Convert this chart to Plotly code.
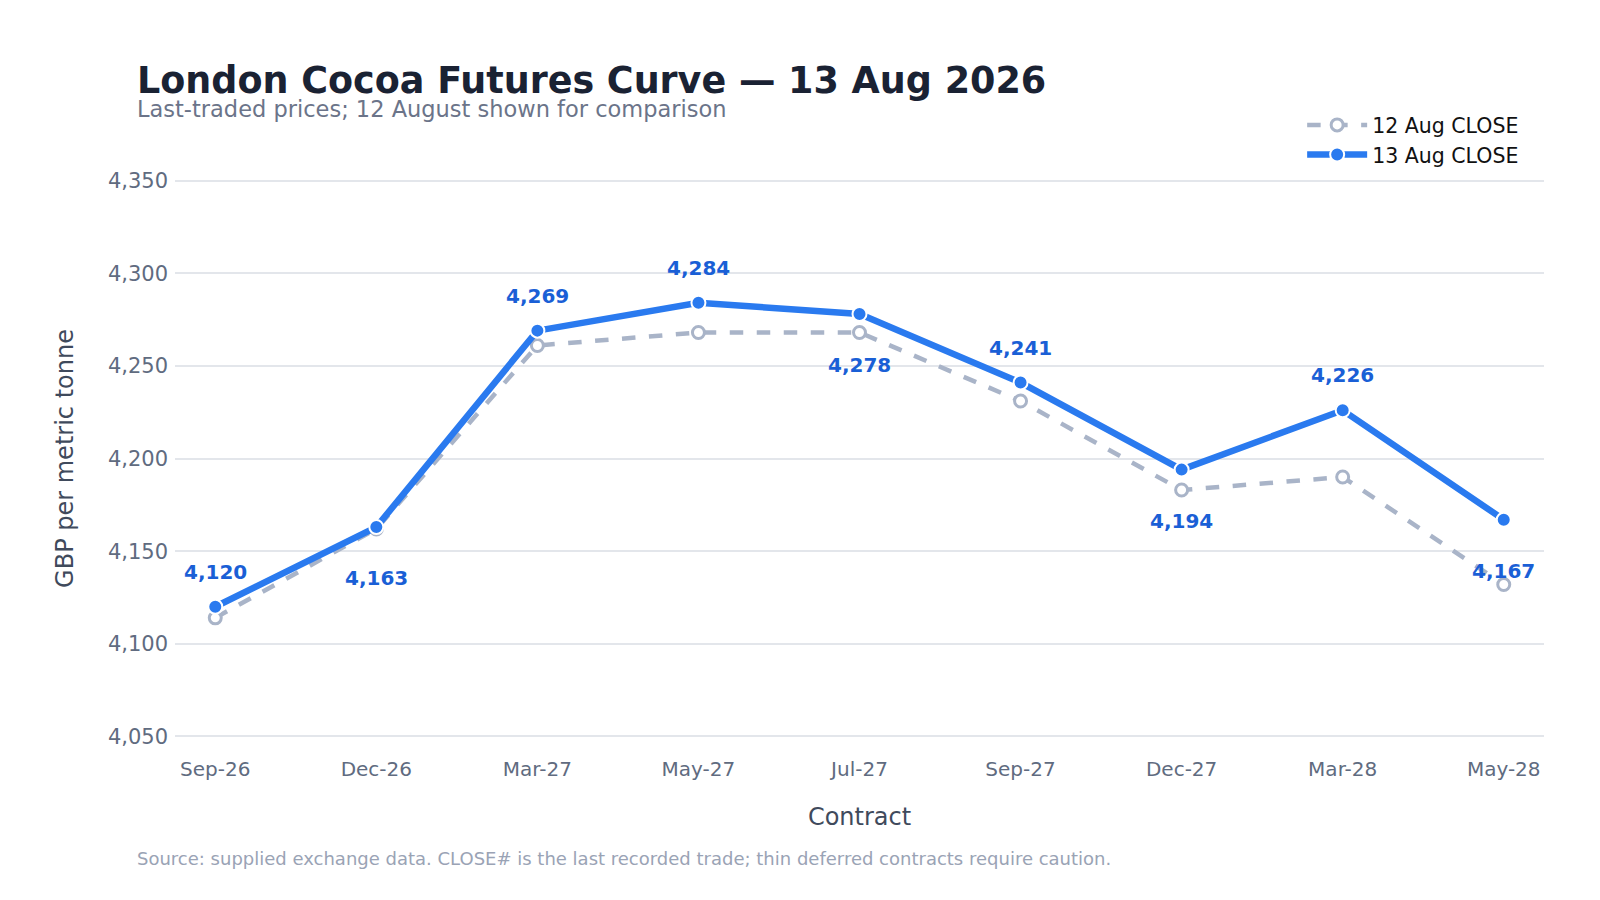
import plotly.graph_objects as go

# Contract months along the curve
contracts = ['Sep-26', 'Dec-26', 'Mar-27', 'May-27', 'Jul-27',
             'Sep-27', 'Dec-27', 'Mar-28', 'May-28']

# Last-traded prices, GBP per tonne
close_12_aug = [4114, 4162, 4261, 4268, 4268, 4231, 4183, 4190, 4132]
close_13_aug = [4120, 4163, 4269, 4284, 4278, 4241, 4194, 4226, 4167]

# Which side of the point each 13 Aug label sits on
label_above = [True, False, True, True, False, True, False, True, False]

FONT = 'DejaVu Sans'

fig = go.Figure()
fig.add_trace(go.Scatter(
    x=contracts, y=close_12_aug, name='12 Aug CLOSE', mode='lines+markers',
    line=dict(color='#a9b4c8', width=4.5, dash='dash'),
    marker=dict(size=12, color='white', line=dict(color='#a9b4c8', width=3)),
))
fig.add_trace(go.Scatter(
    x=contracts, y=close_13_aug, name='13 Aug CLOSE', mode='lines+markers',
    line=dict(color='#2a7aef', width=6.5),
    marker=dict(size=14, color='#2a7aef', line=dict(color='white', width=2)),
))

# value labels for the latest close
for c, v, up in zip(contracts, close_13_aug, label_above):
    fig.add_annotation(x=c, y=v, text=f'{v:,}', showarrow=False,
                       yshift=35 if up else -51,
                       font=dict(family=FONT, size=20, color='#1a5fd6', weight='bold'))

# title + subtitle as annotations so the gap stays tight
fig.add_annotation(xref='paper', yref='paper', x=-0.0293, y=1.138,
                   xanchor='left', yanchor='middle', showarrow=False,
                   text='<b>London Cocoa Futures Curve — 13 Aug 2026</b>',
                   font=dict(family=FONT, size=36.5, color='#1a2233'))
fig.add_annotation(xref='paper', yref='paper', x=-0.0293, y=1.0895,
                   xanchor='left', yanchor='middle', showarrow=False,
                   text='Last-traded prices; 12 August shown for comparison',
                   font=dict(family=FONT, size=22.5, color='#6b7489'))
fig.add_annotation(xref='paper', yref='paper', x=-0.0293, y=-0.1737,
                   xanchor='left', yanchor='middle', showarrow=False,
                   text='Source: supplied exchange data. CLOSE# is the last recorded trade; '
                        'thin deferred contracts require caution.',
                   font=dict(family=FONT, size=18, color='#9aa3b5'))

fig.update_layout(
    width=1600, height=900,
    template='plotly_white',
    paper_bgcolor='white', plot_bgcolor='white',
    font=dict(family=FONT, color='#606b80'),
    margin=dict(l=167, r=64, t=154, b=153),
    legend=dict(x=0.9855, xanchor='right', y=1.096, yanchor='top',
                bgcolor='rgba(0,0,0,0)', itemwidth=60, tracegroupgap=0,
                font=dict(family=FONT, size=20.5, color='#111111')),
    xaxis=dict(
        title=dict(text='Contract', font=dict(size=24, color='#3f4a5c'), standoff=28),
        range=[-0.25, 8.25], showgrid=False, zeroline=False, showline=False,
        tickfont=dict(size=20, color='#606b80'),
    ),
    yaxis=dict(
        title=dict(text='GBP per metric tonne', font=dict(size=24, color='#3f4a5c'), standoff=27),
        range=[4040, 4360], dtick=50, tickformat=',',
        gridcolor='#e3e6eb', gridwidth=2, zeroline=False, showline=False,
        ticklabelstandoff=6,
        tickfont=dict(size=21, color='#606b80'),
    ),
)

fig.write_html('out.html')
